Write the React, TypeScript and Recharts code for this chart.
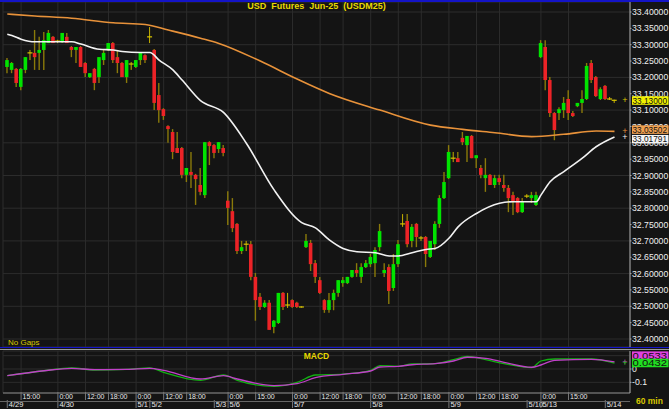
import React from "react";
import {
  ComposedChart,
  Bar,
  Line,
  XAxis,
  YAxis,
  CartesianGrid,
  ReferenceLine,
} from "recharts";

// [open, high, low, close], 60 min bars
const candles: [number, number, number, number][] = [
  [33.232, 33.259, 33.213, 33.253], [33.223, 33.247, 33.213, 33.244], [33.226, 33.229, 33.171, 33.183],
  [33.171, 33.229, 33.161, 33.226], [33.223, 33.262, 33.213, 33.262], [33.275, 33.284, 33.253, 33.275],
  [33.275, 33.345, 33.223, 33.262], [33.275, 33.324, 33.223, 33.284], [33.284, 33.339, 33.223, 33.314],
  [33.305, 33.345, 33.305, 33.336], [33.324, 33.327, 33.305, 33.305], [33.311, 33.315, 33.305, 33.311],
  [33.308, 33.336, 33.305, 33.336], [33.324, 33.336, 33.305, 33.305], [33.293, 33.296, 33.262, 33.284],
  [33.284, 33.293, 33.244, 33.293], [33.293, 33.296, 33.232, 33.232], [33.244, 33.247, 33.201, 33.213],
  [33.201, 33.213, 33.198, 33.213], [33.226, 33.229, 33.161, 33.183], [33.201, 33.262, 33.183, 33.262],
  [33.253, 33.284, 33.238, 33.275], [33.284, 33.305, 33.281, 33.305], [33.305, 33.308, 33.244, 33.253],
  [33.262, 33.284, 33.213, 33.244], [33.244, 33.247, 33.201, 33.201], [33.201, 33.253, 33.183, 33.253],
  [33.241, 33.247, 33.223, 33.241], [33.232, 33.253, 33.229, 33.253], [33.253, 33.275, 33.238, 33.275],
  [33.268, 33.271, 33.244, 33.253], [33.324, 33.354, 33.305, 33.324], [33.284, 33.287, 33.100, 33.122],
  [33.146, 33.183, 33.061, 33.100], [33.103, 33.106, 33.070, 33.082], [33.051, 33.054, 33.000, 33.042],
  [33.033, 33.042, 32.950, 32.972], [32.984, 33.033, 32.969, 32.969], [32.984, 32.987, 32.892, 32.902],
  [32.902, 32.923, 32.880, 32.923], [32.911, 32.972, 32.862, 32.902], [32.902, 32.905, 32.810, 32.889],
  [32.871, 32.923, 32.840, 32.850], [32.840, 33.002, 32.831, 33.002], [33.002, 33.005, 32.932, 32.990],
  [32.993, 32.996, 32.953, 32.969], [32.981, 33.002, 32.969, 33.002], [32.984, 32.993, 32.959, 32.969],
  [32.823, 32.852, 32.749, 32.801], [32.791, 32.831, 32.727, 32.739], [32.752, 32.755, 32.660, 32.669],
  [32.669, 32.700, 32.660, 32.681], [32.690, 32.700, 32.669, 32.690], [32.690, 32.700, 32.580, 32.590],
  [32.590, 32.602, 32.456, 32.519], [32.529, 32.541, 32.489, 32.498], [32.498, 32.519, 32.495, 32.511],
  [32.511, 32.519, 32.428, 32.428], [32.437, 32.458, 32.418, 32.456], [32.449, 32.541, 32.446, 32.541],
  [32.541, 32.544, 32.489, 32.498], [32.504, 32.541, 32.495, 32.504], [32.519, 32.522, 32.495, 32.498],
  [32.511, 32.514, 32.495, 32.498], [32.498, 32.500, 32.496, 32.498], [32.681, 32.721, 32.678, 32.700],
  [32.694, 32.703, 32.608, 32.629], [32.632, 32.642, 32.571, 32.590], [32.580, 32.590, 32.538, 32.541],
  [32.519, 32.522, 32.480, 32.489], [32.489, 32.541, 32.480, 32.519], [32.519, 32.551, 32.488, 32.541],
  [32.541, 32.580, 32.529, 32.580], [32.571, 32.590, 32.560, 32.580], [32.571, 32.590, 32.568, 32.590],
  [32.590, 32.611, 32.587, 32.611], [32.611, 32.632, 32.590, 32.602], [32.590, 32.632, 32.571, 32.620],
  [32.620, 32.642, 32.617, 32.632], [32.629, 32.660, 32.620, 32.651], [32.632, 32.681, 32.590, 32.672],
  [32.681, 32.752, 32.669, 32.730], [32.602, 32.632, 32.590, 32.611], [32.620, 32.629, 32.507, 32.547],
  [32.556, 32.660, 32.547, 32.629], [32.629, 32.703, 32.620, 32.690], [32.752, 32.782, 32.743, 32.752],
  [32.761, 32.782, 32.681, 32.690], [32.700, 32.752, 32.681, 32.743], [32.752, 32.755, 32.681, 32.712],
  [32.709, 32.715, 32.700, 32.709], [32.712, 32.715, 32.620, 32.660], [32.651, 32.700, 32.648, 32.700],
  [32.690, 32.760, 32.672, 32.752], [32.752, 32.840, 32.740, 32.831], [32.831, 32.911, 32.828, 32.880],
  [32.892, 32.993, 32.889, 32.972], [32.953, 32.972, 32.941, 32.953], [32.953, 32.972, 32.941, 32.941],
  [33.015, 33.033, 32.993, 33.002], [32.993, 33.021, 32.941, 33.021], [33.021, 33.024, 32.953, 32.953],
  [32.953, 32.962, 32.923, 32.962], [32.923, 32.932, 32.892, 32.902], [32.892, 32.953, 32.850, 32.902],
  [32.902, 32.905, 32.871, 32.871], [32.871, 32.902, 32.862, 32.892], [32.892, 32.902, 32.871, 32.880],
  [32.871, 32.902, 32.850, 32.862], [32.862, 32.871, 32.788, 32.831], [32.840, 32.850, 32.779, 32.819],
  [32.831, 32.834, 32.785, 32.788], [32.788, 32.831, 32.785, 32.819], [32.837, 32.843, 32.831, 32.837],
  [32.831, 32.850, 32.816, 32.840], [32.810, 32.850, 32.807, 32.840], [33.262, 33.314, 33.259, 33.305],
  [33.293, 33.314, 33.161, 33.192], [33.192, 33.201, 33.079, 33.091], [33.091, 33.094, 33.008, 33.039],
  [33.091, 33.109, 33.070, 33.103], [33.100, 33.140, 33.076, 33.122], [33.134, 33.161, 33.070, 33.091],
  [33.091, 33.097, 33.079, 33.082], [33.112, 33.122, 33.109, 33.122], [33.122, 33.161, 33.091, 33.134],
  [33.134, 33.244, 33.131, 33.235], [33.244, 33.253, 33.183, 33.192], [33.201, 33.204, 33.140, 33.143],
  [33.134, 33.170, 33.131, 33.164], [33.174, 33.177, 33.131, 33.134], [33.134, 33.140, 33.131, 33.134],
  [33.130, 33.132, 33.122, 33.130],
];

// [bar index, value]
const whiteMA: [number, number][] = [
  [0, 33.332], [1, 33.328], [3, 33.317], [6, 33.309], [14, 33.309], [16, 33.302], [20, 33.286],
  [23, 33.284], [25, 33.279], [29, 33.276], [31, 33.276], [33, 33.253], [36, 33.223], [38, 33.192],
  [42, 33.129], [47, 33.093], [52, 32.998], [58, 32.856], [64, 32.756], [67, 32.74], [70, 32.703],
  [73, 32.677], [76, 32.667], [80, 32.664], [83, 32.654], [85, 32.654], [88, 32.664], [91, 32.674],
  [93, 32.677], [96, 32.708], [98, 32.743], [102, 32.784], [107, 32.815], [110, 32.82], [115, 32.82],
  [116, 32.84], [118, 32.881], [121, 32.912], [125, 32.953], [128, 32.988], [132, 33.018],
];
const orangeMA: [number, number][] = [
  [0, 33.394], [6, 33.388], [14, 33.381], [23, 33.367], [30, 33.362], [35, 33.345], [42, 33.32],
  [46, 33.304], [55, 33.25], [63, 33.195], [70, 33.151], [81, 33.1], [92, 33.054], [99, 33.041],
  [106, 33.031], [114, 33.019], [121, 33.026], [128, 33.036], [132, 33.035],
];
const macdLine: [number, number][] = [
  [0, -0.05], [8, -0.013], [14, 0.005], [19, -0.005], [26, -0.003], [31, 0.005], [34, -0.01],
  [42, -0.075], [47, -0.05], [50, -0.075], [58, -0.125], [63, -0.11], [67, -0.065], [73, -0.04],
  [79, -0.015], [81, 0.015], [85, 0.02], [88, 0.032], [93, 0.04], [97, 0.06], [100, 0.088],
  [104, 0.08], [108, 0.05], [114, 0.013], [116, 0.03], [119, 0.065], [127, 0.072], [132, 0.0533],
];
const signalLine: [number, number][] = [
  [0, -0.05], [8, -0.013], [14, 0.008], [19, -0.008], [26, -0.003], [31, 0.008], [34, -0.025],
  [42, -0.085], [47, -0.045], [50, -0.085], [58, -0.13], [63, -0.1], [67, -0.045], [73, -0.038],
  [79, -0.01], [81, 0.025], [85, 0.02], [88, 0.038], [93, 0.04], [97, 0.07], [100, 0.095],
  [104, 0.07], [108, 0.04], [114, 0.01], [116, 0.06], [119, 0.075], [127, 0.075], [132, 0.0432],
];

const timeTicks: [number, string][] = [
  [3, "15:00"], [11, "0:00"], [17, "12:00"], [22, "18:00"], [28, "0:00"], [34, "12:00"],
  [39, "18:00"], [48, "0:00"], [54, "15:00"], [62, "0:00"], [68, "12:00"], [73, "18:00"],
  [79, "0:00"], [85, "12:00"], [90, "18:00"], [96, "0:00"], [102, "12:00"], [107, "18:00"],
  [116, "0:00"], [122, "15:00"],
];
const dateTicks: [number, string][] = [
  [0, "4/29"], [11, "4/30"], [28, "5/1"], [31, "5/2"], [45, "5/3"], [48, "5/6"], [62, "5/7"],
  [79, "5/8"], [96, "5/9"], [113, "5/10"], [116, "5/13"], [130, "5/14"],
];
const priceTicks = [
  33.4, 33.35, 33.3, 33.25, 33.2, 33.15, 33.1, 33.05, 33.0, 32.95, 32.9, 32.85, 32.8, 32.75,
  32.7, 32.65, 32.6, 32.55, 32.5, 32.45, 32.4,
];
const gridPrices = [33.4, 33.3, 33.2, 33.1, 33.0, 32.9, 32.8, 32.7, 32.6, 32.5, 32.4];
const lastClose = 33.13;
const lastOrange = 33.03502;
const lastWhite = 33.01791;
const lastMacd = 0.0533;
const lastSignal = 0.0432;

const xDomain = [-0.93, 135.37];
const yDomain = [32.3756, 33.4306];
const macdDomain = [-0.18, 0.135];
const minorTicks = Array.from({ length: 43 }, (_, k) => 32.4 + k * 0.025);
const timeIdx = timeTicks.map((t) => t[0]);

const toMap = (pairs: [number, number][]) => new Map(pairs);
const wMap = toMap(whiteMA);
const oMap = toMap(orangeMA);
const mMap = toMap(macdLine);
const sMap = toMap(signalLine);
const timeMap = new Map(timeTicks);
const dateMap = new Map(dateTicks);
const axisTicks = Array.from(new Set([...timeIdx, ...dateTicks.map((t) => t[0])])).sort((a, b) => a - b);

const rows = candles.map(([o, h, l, c], i) => ({
  i,
  o,
  h,
  l,
  c,
  range: [l, h],
  wma: wMap.get(i),
  oma: oMap.get(i),
  macd: mMap.get(i),
  sig: sMap.get(i),
}));

const BG = "#141414";
const GRID = "#2c2c2c";
const FONT = "'Liberation Sans', Arial, sans-serif";
const axisTickStyle = { fill: "#f0f0f0", fontSize: 8.7, fontFamily: FONT };

const Candle = (props: any) => {
  const { x, y, width, height, payload } = props;
  if (x == null || y == null) return null;
  const { o, h, l, c } = payload;
  const top = Math.min(y, y + height);
  const bot = Math.max(y, y + height);
  const py = (v: number) => (h === l ? top : top + ((h - v) / (h - l)) * (bot - top));
  const cx = x + width / 2;
  const bw = 3.6;
  if (o === c) {
    return (
      <g>
        <line x1={cx} x2={cx} y1={top} y2={bot} stroke="#c8b400" strokeWidth={1} />
        <line x1={cx - 2.5} x2={cx + 2.5} y1={py(o)} y2={py(o)} stroke="#d8c400" strokeWidth={1.2} />
      </g>
    );
  }
  const up = c > o;
  const y1 = py(Math.max(o, c));
  const y2 = py(Math.min(o, c));
  return (
    <g>
      <line x1={cx} x2={cx} y1={top} y2={bot} stroke="#8a7a0a" strokeWidth={1.4} />
      <rect x={cx - bw / 2} y={y1} width={bw} height={Math.max(1, y2 - y1)} fill={up ? "#00e400" : "#ec2327"} />
    </g>
  );
};

const ValueTag = (props: any) => {
  const { viewBox, text, bg, fg, dy, mark } = props;
  if (!viewBox) return null;
  const x = viewBox.x + viewBox.width;
  const y = viewBox.y + (dy || 0);
  return (
    <g>
      <text x={x - 5} y={viewBox.y + 3} fill={mark} fontSize={9} fontFamily={FONT} textAnchor="middle">
        +
      </text>
      <rect x={x + 2} y={y - 4} width={36.5} height={8.5} fill={bg} />
      <text x={x + 2.5} y={y + 3.5} fill={fg} fontSize={9} fontFamily={FONT} textLength={34.5} lengthAdjust="spacingAndGlyphs">
        {text}
      </text>
    </g>
  );
};

const AxisTick = (props: any) => {
  const { x, y, payload } = props;
  const t = timeMap.get(payload.value);
  const d = dateMap.get(payload.value);
  const y0 = y - 1;
  return (
    <g fontFamily={FONT} fontSize={7} fill="#e8e8e8">
      {t && (
        <>
          <line x1={x} x2={x} y1={y0} y2={y0 + 8} stroke="#777" />
          <text x={x + 1.5} y={y0 + 6.8}>{t}</text>
        </>
      )}
      {d && (
        <>
          <line x1={x} x2={x} y1={y0 + 8} y2={y0 + 16} stroke="#777" />
          <text x={x + 1.5} y={y0 + 14.5} fontSize={7.5}>{d}</text>
        </>
      )}
    </g>
  );
};

export default function App() {
  return (
    <div style={{ position: "absolute", left: 0, top: 0, width: 669, height: 409, background: BG, overflow: "hidden" }}>
      <div style={{ position: "absolute", left: 0, top: 0 }}>
        <ComposedChart width={669} height={349} data={rows} margin={{ top: 2, right: 0, bottom: 2, left: 0 }}>
          <CartesianGrid stroke={GRID} yAxisId="grid" />
          <XAxis type="number" dataKey="i" domain={xDomain} allowDataOverflow ticks={timeIdx} interval={0} hide />
          <YAxis yAxisId="grid" domain={yDomain} allowDataOverflow ticks={gridPrices} interval={0} hide />
          <YAxis
            yAxisId="left"
            orientation="left"
            width={3}
            domain={yDomain}
            allowDataOverflow
            ticks={minorTicks}
            interval={0}
            tick={false}
            tickSize={3}
            axisLine={false}
            tickLine={{ stroke: "#888" }}
          />
          <YAxis
            yAxisId="p"
            orientation="right"
            width={39}
            domain={yDomain}
            allowDataOverflow
            ticks={priceTicks}
            interval={0}
            tickFormatter={(v: number) => v.toFixed(5)}
            tick={axisTickStyle}
            tickSize={1.5}
            tickMargin={0.5}
            axisLine={{ stroke: "#aaa" }}
            tickLine={{ stroke: "#aaa" }}
          />
          <Bar yAxisId="p" dataKey="range" shape={<Candle />} barSize={4} isAnimationActive={false} />
          <Line yAxisId="p" dataKey="oma" type="monotone" stroke="#e8923a" strokeWidth={1.6} dot={false} connectNulls isAnimationActive={false} />
          <Line yAxisId="p" dataKey="wma" type="monotone" stroke="#f2f2f2" strokeWidth={1.6} dot={false} connectNulls isAnimationActive={false} />
        </ComposedChart>
      </div>

      {/* last-value tags, drawn over the price axis */}
      <div style={{ position: "absolute", left: 0, top: 0 }}>
        <ComposedChart width={669} height={349} data={rows} margin={{ top: 2, right: 39, bottom: 2, left: 3 }}>
          <XAxis type="number" dataKey="i" domain={xDomain} allowDataOverflow hide />
          <YAxis domain={yDomain} allowDataOverflow hide />
          <Line dataKey="c" stroke="none" dot={false} isAnimationActive={false} />
          <ReferenceLine y={lastClose} stroke="none" ifOverflow="visible" label={<ValueTag text="33.13000" bg="#f0f000" fg="#111" mark="#d8c400" />} />
          <ReferenceLine y={lastOrange} stroke="none" ifOverflow="visible" label={<ValueTag text="33.03502" bg="#f0a050" fg="#111" dy={-2} mark="#e8923a" />} />
          <ReferenceLine y={lastWhite} stroke="none" ifOverflow="visible" label={<ValueTag text="33.01791" bg="#f4f4f4" fg="#111" dy={2} mark="#eee" />} />
        </ComposedChart>
      </div>

      <div style={{ position: "absolute", left: 0, top: 350 }}>
        <ComposedChart width={669} height={59} data={rows} margin={{ top: 1, right: 0, bottom: 0, left: 0 }}>
          <CartesianGrid stroke={GRID} xAxisId="grid" yAxisId="grid" />
          <XAxis xAxisId="grid" type="number" dataKey="i" domain={xDomain} allowDataOverflow ticks={timeIdx} interval={0} hide />
          <YAxis yAxisId="grid" domain={macdDomain} allowDataOverflow ticks={[0.1, 0, -0.1]} interval={0} hide />
          <XAxis
            type="number"
            dataKey="i"
            domain={xDomain}
            allowDataOverflow
            ticks={axisTicks}
            interval={0}
            tick={<AxisTick />}
            tickLine={false}
            tickSize={0}
            tickMargin={0}
            height={16}
            axisLine={{ stroke: "#888" }}
          />
          <YAxis
            yAxisId="left"
            orientation="left"
            width={3}
            domain={macdDomain}
            allowDataOverflow
            ticks={[0.1, 0.05, 0, -0.05, -0.1, -0.15]}
            interval={0}
            tick={false}
            tickSize={3}
            axisLine={false}
            tickLine={{ stroke: "#888" }}
          />
          <YAxis
            orientation="right"
            width={39}
            domain={macdDomain}
            allowDataOverflow
            ticks={[0, -0.1]}
            interval={0}
            tickFormatter={(v: number) => (v === 0 ? "0" : String(v))}
            tick={axisTickStyle}
            tickSize={1.5}
            tickMargin={0.5}
            axisLine={{ stroke: "#aaa" }}
            tickLine={{ stroke: "#aaa" }}
          />
          <Line dataKey="sig" type="monotone" stroke="#12b012" strokeWidth={1.3} dot={false} connectNulls isAnimationActive={false} />
          <Line dataKey="macd" type="monotone" stroke="#c040c8" strokeWidth={1.3} dot={false} connectNulls isAnimationActive={false} />
        </ComposedChart>
      </div>

      <div style={{ position: "absolute", left: 0, top: 350 }}>
        <ComposedChart width={669} height={59} data={rows} margin={{ top: 1, right: 39, bottom: 16, left: 3 }}>
          <XAxis type="number" dataKey="i" domain={xDomain} allowDataOverflow hide />
          <YAxis domain={macdDomain} allowDataOverflow hide />
          <Line dataKey="macd" stroke="none" dot={false} connectNulls isAnimationActive={false} />
          <ReferenceLine y={lastMacd} stroke="none" ifOverflow="visible" label={<ValueTag text="0.0533" bg="#e040e0" fg="#111" dy={-6.5} mark="#c040c8" />} />
          <ReferenceLine y={lastSignal} stroke="none" ifOverflow="visible" label={<ValueTag text="0.0432" bg="#20dd20" fg="#111" dy={-0.5} mark="#20c020" />} />
        </ComposedChart>
      </div>

      {/* panel frames and captions */}
      <div style={{ position: "absolute", left: 0, top: 0, width: 669, height: 2, background: "#1414c8" }} />
      <div style={{ position: "absolute", left: 0, top: 346.5, width: 669, height: 1.5, background: "#1414c8" }} />
      <div style={{ position: "absolute", left: 0, top: 349, width: 669, height: 1, background: "#9a9a9a" }} />
      <div style={{ position: "absolute", left: 0, top: 401, width: 630, height: 1, background: "#666" }} />
      <div
        style={{
          position: "absolute",
          left: 0,
          top: 1,
          width: 633,
          textAlign: "center",
          color: "#e8d800",
          font: `bold 9px ${FONT}`,
          whiteSpace: "pre",
        }}
      >
        {"USD  Futures  Jun-25  (USDM25)"}
      </div>
      <div style={{ position: "absolute", left: 8, top: 338, color: "#d8c800", font: `8px ${FONT}` }}>No Gaps</div>
      <div
        style={{
          position: "absolute",
          left: 0,
          top: 351,
          width: 633,
          textAlign: "center",
          color: "#e8d800",
          font: `bold 8.5px ${FONT}`,
        }}
      >
        MACD
      </div>
      <div style={{ position: "absolute", left: 636, top: 396, color: "#d8c800", font: `bold 8.5px ${FONT}` }}>60 min</div>
    </div>
  );
}
